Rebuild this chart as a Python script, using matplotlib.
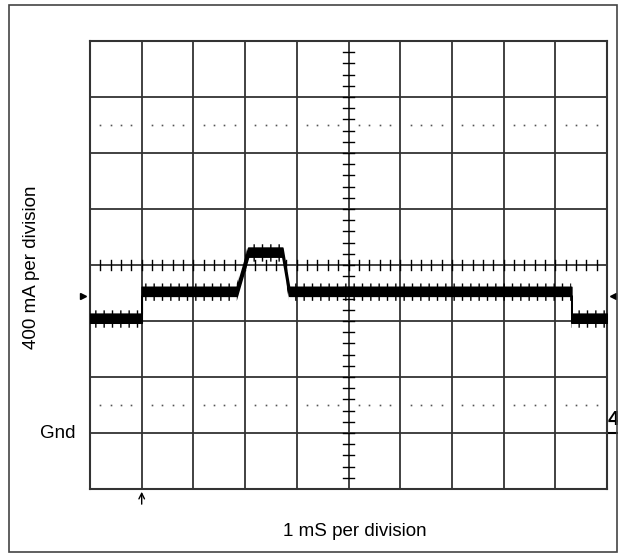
import matplotlib.pyplot as plt
import numpy as np
from matplotlib.patches import Rectangle

plt.rcParams['font.family'] = ['Liberation Sans', 'DejaVu Sans']
plt.rcParams['hatch.linewidth'] = 1.0

# scope screen: 10 x 8 divisions
n_xdiv = 10
n_ydiv = 8

# trace (divisions)
trace_t = [0.0, 1.0, 1.0, 2.84, 3.06, 3.72, 3.85, 9.31, 9.31, 10.0]
trace_mid = [3.05, 3.05, 3.53, 3.53, 4.23, 4.23, 3.53, 3.53, 3.05, 3.05]
core_half = 0.08      # solid part of the noisy trace
spike_up = 0.14       # noise spikes above
spike_down = 0.17     # noise spikes below

gnd_level = 1.0
marker_level = 3.45
trigger_t = 1.0
dotted_rows = [1.5, 6.5]

fig = plt.figure(figsize=(6.18, 5.54), dpi=100)
ax = fig.add_axes([90 / 618, (554 - 489) / 554, 517 / 618, 448 / 554])
ax.set_xlim(0, n_xdiv)
ax.set_ylim(0, n_ydiv)
ax.set_xticks([])
ax.set_yticks([])
for s in ax.spines.values():
    s.set_color('#333333')
    s.set_linewidth(1.5)

grid_col = '#333333'
for x in range(1, n_xdiv):
    ax.axvline(x, color=grid_col, lw=1.3, zorder=1)
for y in range(1, n_ydiv):
    ax.axhline(y, color=grid_col, lw=1.3, zorder=1)

# dotted rows
for y in dotted_rows:
    xs = [d + f for d in range(n_xdiv) for f in (0.2, 0.4, 0.6, 0.8)]
    ax.plot(xs, [y] * len(xs), ls='none', marker='s', ms=1.2, mew=0, color='#555555', zorder=1)

# centre graticule ticks
tick_x = np.arange(0.2, n_xdiv, 0.2)
tick_y = np.arange(0.2, n_ydiv, 0.2)
for x in tick_x:
    ax.plot([x, x], [n_ydiv / 2 - 0.09, n_ydiv / 2 + 0.09], color='black', lw=1, zorder=2)
for y in tick_y:
    ax.plot([n_xdiv / 2 - 0.1, n_xdiv / 2 + 0.1], [y, y], color='black', lw=1, zorder=2)

# trace
mid = np.array(trace_mid)
ax.fill_between(trace_t, mid - core_half, mid + core_half, color='black', lw=1.2,
                edgecolor='black', zorder=4)
ax.fill_between(trace_t, mid - spike_down, mid + spike_up, facecolor='none',
                edgecolor='black', hatch='||', lw=0, zorder=3)

# side markers and ground marker
ax.plot([-0.14], [marker_level], marker='>', ms=5, color='black', clip_on=False)
ax.plot([10.12], [marker_level], marker='<', ms=5, color='black', clip_on=False)
ax.plot([10.0, 10.2], [gnd_level, gnd_level], color='black', lw=1.5, clip_on=False)
ax.text(10.01, gnd_level + 0.08, '4', fontsize=15, fontweight='bold', ha='left',
        va='bottom', clip_on=False, family=['Liberation Sans Narrow', 'Liberation Sans'])

# trigger arrow
ax.annotate('', xy=(trigger_t, 0.0), xytext=(trigger_t, -0.32),
            arrowprops=dict(arrowstyle='->', color='black', lw=1), annotation_clip=False)

# labels
fig.text(32 / 618, 1 - 267 / 554, '400 mA per division', rotation=90, fontsize=13.5,
         ha='center', va='center')
fig.text(57.5 / 618, 1 - 434 / 554, 'Gnd', fontsize=13.5, ha='center', va='center')
fig.text(354.5 / 618, 1 - 531 / 554, '1 mS per division', fontsize=13.5, ha='center',
         va='center')

# outer frame
fig.add_artist(Rectangle((9 / 618, 1 - 552 / 554), 608 / 618, 547 / 554,
                         transform=fig.transFigure, fill=False, edgecolor='#444444', lw=1.2))

plt.savefig('out.png', dpi=100)
